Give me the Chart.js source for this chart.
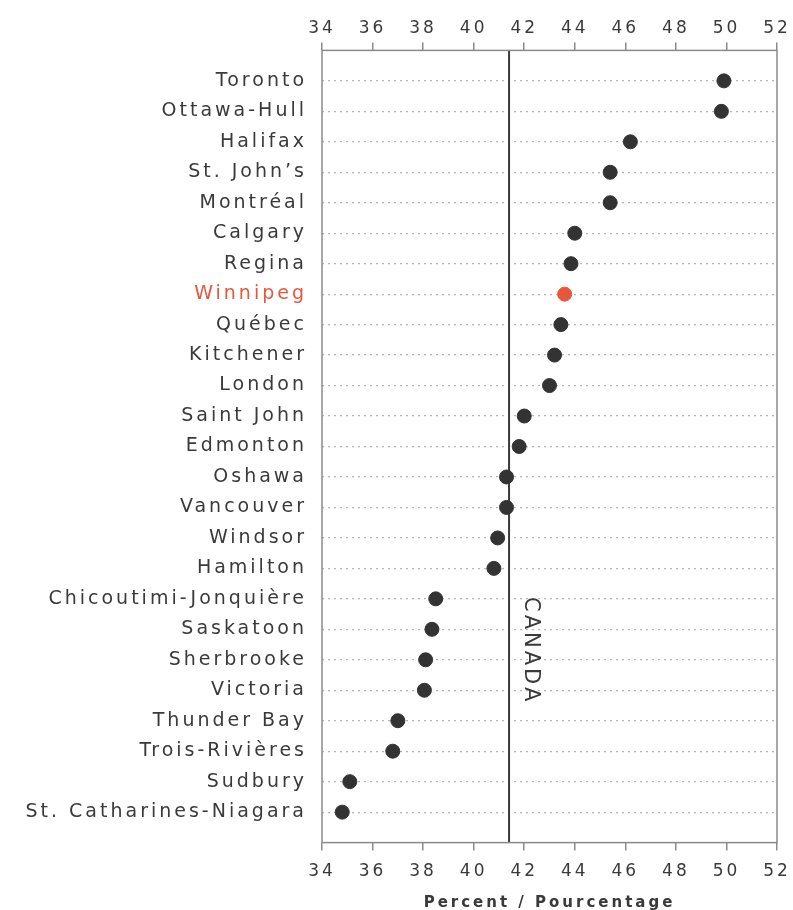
<!DOCTYPE html>
<html>
<head>
<meta charset="utf-8">
<script src="https://cdn.jsdelivr.net/npm/chart.js@4.4.0/dist/chart.umd.min.js"></script>
<style>
  html, body { margin: 0; padding: 0; background: #fff; }
  .wrap { width: 793px; height: 910px; }
</style>
</head>
<body>
<div class="wrap"><canvas id="grafico" width="793" height="910"></canvas></div>
<script>
// villes (haut -> bas)
const cities = ['Toronto', 'Ottawa-Hull', 'Halifax', 'St. John\u2019s', 'Montréal', 'Calgary', 'Regina', 'Winnipeg',
  'Québec', 'Kitchener', 'London', 'Saint John', 'Edmonton', 'Oshawa', 'Vancouver', 'Windsor', 'Hamilton',
  'Chicoutimi-Jonquière', 'Saskatoon', 'Sherbrooke', 'Victoria', 'Thunder Bay', 'Trois-Rivières', 'Sudbury',
  'St. Catharines-Niagara']
const percent = [49.9, 49.8, 46.2, 45.4, 45.4, 44.0, 43.85, 43.6, 43.45, 43.2, 43.0, 42.0, 41.8, 41.3, 41.3,
  40.95, 40.8, 38.5, 38.35, 38.1, 38.05, 37.0, 36.8, 35.1, 34.8]
const canada = 41.4
const highlight = 'Winnipeg'
const xTicks = [34, 36, 38, 40, 42, 44, 46, 48, 50, 52]

const red = '#e8573c'
const dark = '#333'
const txt = '#3a3a3a'
const fam = '"DejaVu Sans", sans-serif'

const pts = cities.map((c, i) => ({x: percent[i], y: i}))
const ptColors = cities.map(c => c === highlight ? red : dark)

const extras = {
  id: 'extras',
  beforeDraw(chart) {
    chart.ctx.letterSpacing = '3px'
  },
  afterDatasetsDraw(chart) {
    const ctx = chart.ctx, a = chart.chartArea
    const x = chart.scales.x, y = chart.scales.y
    ctx.save()
    ctx.strokeStyle = '#8a8a8a'
    ctx.lineWidth = 1.5
    ctx.strokeRect(a.left, a.top, a.right - a.left, a.bottom - a.top)
    ctx.translate(x.getPixelForValue(canada) + 21, y.getPixelForValue(18.7))
    ctx.rotate(Math.PI / 2)
    ctx.fillStyle = txt
    ctx.font = '21px ' + fam
    ctx.letterSpacing = '3px'
    ctx.textAlign = 'center'
    ctx.textBaseline = 'middle'
    ctx.fillText('CANADA', 0, 0)
    ctx.restore()
  }
}

const tickCb = v => xTicks.includes(v) ? v : ''
const noPad = s => { s.paddingLeft = 0; s.paddingRight = 0 }

new Chart(document.getElementById('grafico').getContext('2d'), {
  type: 'scatter',
  data: {
    datasets: [{
      label: 'Villes',
      data: pts,
      backgroundColor: ptColors,
      borderColor: ptColors,
      pointRadius: 7,
      order: 1
    }, {
      label: 'Canada',
      type: 'line',
      data: [{x: canada, y: -1}, {x: canada, y: cities.length}],
      borderColor: '#3a3a3a',
      borderWidth: 2,
      pointRadius: 0,
      order: 2
    }]
  },
  options: {
    responsive: false,
    animation: false,
    layout: { padding: { top: 14, right: 16, bottom: 0, left: 0 } },
    plugins: { legend: { display: false }, tooltip: { enabled: false } },
    scales: {
      x: {
        type: 'linear', position: 'bottom', min: 34, max: 52,
        afterFit: noPad,
        ticks: { stepSize: 2, callback: tickCb, color: txt, font: { family: fam, size: 17 }, padding: 11 },
        grid: { drawOnChartArea: false, tickLength: 8, color: '#8a8a8a', lineWidth: 1.5 },
        border: { display: false },
        title: { display: true, text: 'Percent / Pourcentage', color: txt,
          font: { family: fam, size: 15, weight: 'bold' }, padding: { top: 1, bottom: -2 } }
      },
      x2: {
        type: 'linear', position: 'top', min: 34, max: 52,
        afterFit: noPad,
        ticks: { stepSize: 2, callback: tickCb, color: txt, font: { family: fam, size: 17 }, padding: 4 },
        grid: { drawOnChartArea: false, tickLength: 8, color: '#8a8a8a', lineWidth: 1.5 },
        border: { display: false }
      },
      y: {
        type: 'linear', reverse: true, min: -1, max: cities.length,
        afterBuildTicks: s => { s.ticks = cities.map((c, i) => ({value: i})) },
        afterFit: s => { s.width = 322 },
        ticks: {
          autoSkip: false,
          callback: v => cities[v] || '',
          color: c => cities[c.tick.value] === highlight ? red : txt,
          font: { family: fam, size: 19 },
          padding: 15
        },
        grid: { color: '#b5b5b5', lineWidth: 1.2, tickLength: 0, drawTicks: false },
        border: { display: false, dash: [2, 4] }
      }
    }
  },
  plugins: [extras]
})
</script>
</body>
</html>
